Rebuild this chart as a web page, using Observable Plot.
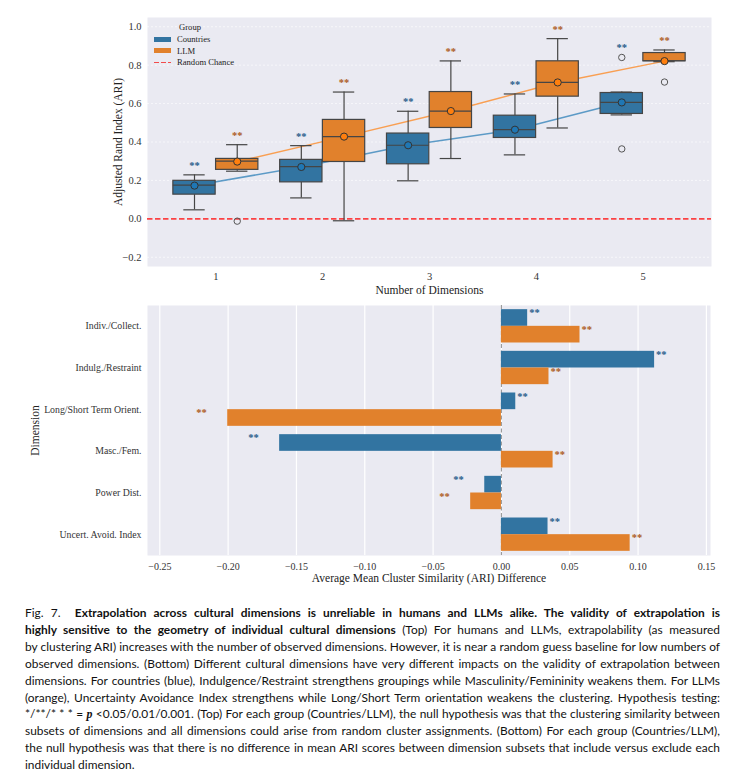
<!DOCTYPE html>
<html><head><meta charset="utf-8">
<script src="https://cdn.jsdelivr.net/npm/d3@7"></script>
<script src="https://cdn.jsdelivr.net/npm/@observablehq/plot@0.6"></script>
<style>
body{margin:0;background:#fff;}
#wrap{position:relative;width:741px;height:780px;overflow:hidden;}
#top,#bottom{position:absolute;left:0;}
#top{top:0;} #bottom{top:300px;}
.lg{position:absolute;font-family:"Liberation Serif","Times New Roman",serif;font-size:8.6px;color:#222;line-height:10px;}
.patch{position:absolute;width:17px;height:5.6px;}
.caption{position:absolute;left:25px;top:605px;width:695px;font-family:"Liberation Sans Narrow","Lato",sans-serif;font-size:12.5px;line-height:16.9px;color:#111;}
.caption div{white-space:nowrap;}
.caption.just div{text-align:justify;text-align-last:justify;}
.caption.just div.last{text-align-last:left;}
.caption b{font-weight:bold;}
</style></head>
<body>
<div id="wrap">
<div id="top"></div>
<div id="bottom"></div>
<div class="lg" style="left:170px;top:22.3px;width:40px;text-align:center;">Group</div>
<div class="patch" style="left:154px;top:36.7px;background:#3274a1;"></div>
<div class="lg" style="left:177px;top:34.3px;">Countries</div>
<div class="patch" style="left:154px;top:47.7px;background:#e1812c;"></div>
<div class="lg" style="left:177px;top:45.7px;">LLM</div>
<div class="patch" style="left:154px;top:61.5px;height:1.6px;background:repeating-linear-gradient(90deg,#f24b4b 0 4.5px,transparent 4.5px 7px);"></div>
<div class="lg" style="left:177px;top:57.3px;">Random Chance</div>
<div class="caption" id="cap">
<div><span>Fig. 7.&nbsp; <b>Extrapolation across cultural dimensions is unreliable in humans and LLMs alike. The validity of extrapolation is</b></span></div>
<div><span><b>highly sensitive to the geometry of individual cultural dimensions</b> (Top) For humans and LLMs, extrapolability (as measured</span></div>
<div><span>by clustering ARI) increases with the number of observed dimensions. However, it is near a random guess baseline for low numbers of</span></div>
<div><span>observed dimensions. (Bottom) Different cultural dimensions have very different impacts on the validity of extrapolation between</span></div>
<div><span>dimensions. For countries (blue), Indulgence/Restraint strengthens groupings while Masculinity/Femininity weakens them. For LLMs</span></div>
<div><span>(orange), Uncertainty Avoidance Index strengthens while Long/Short Term orientation weakens the clustering. Hypothesis testing:</span></div>
<div><span>*/**/* * * = <i style="font-family:'Liberation Serif',serif;font-weight:bold;">p</i> &lt;0.05/0.01/0.001. (Top) For each group (Countries/LLM), the null hypothesis was that the clustering similarity between</span></div>
<div><span>subsets of dimensions and all dimensions could arise from random cluster assignments. (Bottom) For each group (Countries/LLM),</span></div>
<div><span>the null hypothesis was that there is no difference in mean ARI scores between dimension subsets that include versus exclude each</span></div>
<div class="last"><span>individual dimension.</span></div>
</div>
</div>
<script>
// ---------- Top panel data (box statistics) ----------
const dims = [1, 2, 3, 4, 5];
const groups = ["Countries", "LLM"];
const countriesLow    = [0.047, 0.109, 0.198, 0.333, 0.541];
const countriesQ1     = [0.126, 0.190, 0.284, 0.421, 0.546];
const countriesMedian = [0.176, 0.272, 0.383, 0.464, 0.606];
const countriesQ3     = [0.198, 0.307, 0.444, 0.537, 0.655];
const countriesHigh   = [0.229, 0.381, 0.560, 0.650, 0.660];
const countriesMean   = [0.173, 0.270, 0.383, 0.464, 0.606];
const countriesOutliers = [[], [], [], [], [0.840, 0.364]];
const llmLow    = [0.248, -0.010, 0.314, 0.473, 0.818];
const llmQ1     = [0.255, 0.296, 0.473, 0.636, 0.820];
const llmMedian = [0.300, 0.428, 0.561, 0.710, 0.823];
const llmQ3     = [0.312, 0.515, 0.660, 0.820, 0.863];
const llmHigh   = [0.386, 0.660, 0.822, 0.938, 0.879];
const llmMean   = [0.298, 0.428, 0.561, 0.710, 0.821];
const llmOutliers = [[-0.012], [], [], [], [0.712]];
const significance = {Countries: ["**","**","**","**","**"], LLM: ["**","**","**","**","**"]};
const yTicksTop = [-0.2, 0.0, 0.2, 0.4, 0.6, 0.8, 1.0];

// ---------- Bottom panel data ----------
const dimensions = ["Indiv./Collect.", "Indulg./Restraint", "Long/Short Term Orient.", "Masc./Fem.", "Power Dist.", "Uncert. Avoid. Index"];
const countriesDiff = [0.0192, 0.1121, 0.0105, -0.1623, -0.0122, 0.0341];
const llmDiff       = [0.0575, 0.0348, -0.2003, 0.0378, -0.0225, 0.0942];
const countriesSig = ["**","**","**","**","**","**"];
const llmSig       = ["**","**","**","**","**","**"];
const xTicksBottom = [-0.25, -0.20, -0.15, -0.10, -0.05, 0.00, 0.05, 0.10, 0.15];

// ---------- Styles ----------
const boxColor  = {Countries: "#3274a1", LLM: "#e1812c"};
const meanColor = {Countries: "#1f77b4", LLM: "#ff7f0e"};
const starColor = {Countries: "#285d8b", LLM: "#ad5c22"};
const offset = {Countries: -0.2, LLM: 0.2};
const serif = "'Liberation Serif','Times New Roman',serif";
const edge = "#454545";

const stats = {
  Countries: {low: countriesLow, q1: countriesQ1, med: countriesMedian, q3: countriesQ3, high: countriesHigh, mean: countriesMean, out: countriesOutliers},
  LLM: {low: llmLow, q1: llmQ1, med: llmMedian, q3: llmQ3, high: llmHigh, mean: llmMean, out: llmOutliers}
};
const boxes = groups.flatMap(g => dims.map((d, i) => {
  const s = stats[g];
  return {group: g, dim: d, x: d + offset[g], low: s.low[i], q1: s.q1[i], med: s.med[i], q3: s.q3[i], high: s.high[i], mean: s.mean[i], out: s.out[i], sig: significance[g][i]};
}));
const outlierRows = boxes.flatMap(b => b.out.map(v => ({group: b.group, x: b.x, value: v})));
const starRows = boxes.map(b => ({group: b.group, x: b.x, y: Math.max(b.high, ...b.out) + 0.06, sig: b.sig}));

const topMarks = [
  Plot.frame({fill: "#eaeaf2", stroke: "none"}),
  Plot.ruleY(yTicksTop, {stroke: "white", strokeOpacity: 0.8, strokeWidth: 0.8, strokeDasharray: "2,2"}),
  Plot.ruleY([0], {stroke: "red", strokeOpacity: 0.72, strokeWidth: 1.6, strokeDasharray: "5.5,2.5"})
];
for (const g of groups) {
  const rows = boxes.filter(b => b.group === g);
  topMarks.push(Plot.line(rows, {x: "x", y: "mean", stroke: meanColor[g], strokeOpacity: 0.7, strokeWidth: 1.5}));
}
for (const g of groups) {
  const rows = boxes.filter(b => b.group === g);
  topMarks.push(
    Plot.ruleX(rows, {x: "x", y1: "low", y2: "q1", stroke: edge, strokeWidth: 1.2}),
    Plot.ruleX(rows, {x: "x", y1: "q3", y2: "high", stroke: edge, strokeWidth: 1.2}),
    Plot.ruleY(rows, {y: "low", x1: d => d.x - 0.1, x2: d => d.x + 0.1, stroke: edge, strokeWidth: 1.2}),
    Plot.ruleY(rows, {y: "high", x1: d => d.x - 0.1, x2: d => d.x + 0.1, stroke: edge, strokeWidth: 1.2}),
    Plot.rect(rows, {x1: d => d.x - 0.198, x2: d => d.x + 0.198, y1: "q1", y2: "q3", fill: boxColor[g], stroke: edge, strokeWidth: 1.2}),
    Plot.ruleY(rows, {y: "med", x1: d => d.x - 0.198, x2: d => d.x + 0.198, stroke: edge, strokeWidth: 1.2}),
    Plot.dot(outlierRows.filter(o => o.group === g), {x: "x", y: "value", r: 3.2, fill: "none", stroke: "#555", strokeWidth: 1}),
    Plot.dot(rows, {x: "x", y: "mean", r: 3.6, fill: meanColor[g], stroke: "#333", strokeWidth: 1}),
    Plot.text(starRows.filter(s => s.group === g), {x: "x", y: "y", text: "sig", fill: starColor[g], fontWeight: "bold", fontSize: 10.5, lineAnchor: "bottom", dy: 5.5})
  );
}
topMarks.push(
  Plot.axisX({ticks: dims, tickSize: 0, tickPadding: 6, tickFormat: d3.format("d"), label: null, fontSize: 10.5, fill: "#333"}),
  Plot.axisY({ticks: yTicksTop, tickSize: 0, tickPadding: 6, tickFormat: d3.format(".1f"), label: null, fontSize: 10.5, fill: "#333"}),
  Plot.text(["Number of Dimensions"], {frameAnchor: "bottom", textAnchor: "middle", lineAnchor: "bottom", dy: 27, fontSize: 11.5, fill: "#222"}),
  Plot.text(["Adjusted Rand Index (ARI)"], {frameAnchor: "left", textAnchor: "middle", rotate: -90, lineAnchor: "bottom", dx: -26, fontSize: 11.5, fill: "#222"})
);

const topPlot = Plot.plot({
  width: 741, height: 300,
  marginLeft: 147, marginRight: 30, marginTop: 17, marginBottom: 34,
  style: {fontFamily: serif, background: "transparent"},
  x: {domain: [0.36, 5.64]},
  y: {domain: [-0.248, 1.048]},
  marks: topMarks
});
document.getElementById("top").append(topPlot);

// ---------- Bottom panel ----------
const bars = dimensions.flatMap((name, i) => [
  {group: "Countries", i, name, value: countriesDiff[i], y1: i - 0.4, y2: i, sig: countriesSig[i]},
  {group: "LLM", i, name, value: llmDiff[i], y1: i, y2: i + 0.4, sig: llmSig[i]}
]);
const botMarks = [
  Plot.frame({fill: "#eaeaf2", stroke: "none"}),
  Plot.ruleX(xTicksBottom, {stroke: "white", strokeWidth: 1.2}),
  Plot.ruleX([0], {stroke: "#9a9a9a", strokeWidth: 1.1, strokeDasharray: "4,2.5"})
];
for (const g of groups) {
  const rows = bars.filter(b => b.group === g);
  botMarks.push(
    Plot.rect(rows, {x1: 0, x2: "value", y1: "y1", y2: "y2", fill: boxColor[g]}),
    Plot.text(rows.filter(r => r.value >= 0), {x: "value", y: "y1", text: "sig", fill: starColor[g], fontWeight: "bold", fontSize: 10.5, textAnchor: "start", lineAnchor: "bottom", dx: 1.5, dy: 6.8}),
    Plot.text(rows.filter(r => r.value < 0), {x: "value", y: "y1", text: "sig", fill: starColor[g], fontWeight: "bold", fontSize: 10.5, textAnchor: "end", lineAnchor: "bottom", dx: -21, dy: 6.8})
  );
}
botMarks.push(
  Plot.axisX({ticks: xTicksBottom, tickSize: 0, tickPadding: 7, tickFormat: d3.format(".2f"), label: null, fontSize: 10, fill: "#333"}),
  Plot.axisY({ticks: d3.range(dimensions.length), tickSize: 0, tickPadding: 6, tickFormat: i => dimensions[i], label: null, fontSize: 9.8, fill: "#333"}),
  Plot.text(["Average Mean Cluster Similarity (ARI) Difference"], {frameAnchor: "bottom", textAnchor: "middle", lineAnchor: "bottom", dy: 26.5, fontSize: 11.5, fill: "#222"}),
  Plot.text(["Dimension"], {frameAnchor: "left", textAnchor: "middle", rotate: -90, lineAnchor: "bottom", dx: -108.5, fontSize: 11.5, fill: "#222"})
);
const botPlot = Plot.plot({
  width: 741, height: 300,
  marginLeft: 147, marginRight: 31, marginTop: 5, marginBottom: 45,
  style: {fontFamily: serif, background: "transparent"},
  x: {domain: [-0.259, 0.153]},
  y: {domain: [-0.5, 5.5], reverse: true},
  marks: botMarks
});
document.getElementById("bottom").append(botPlot);

// ---------- Fit caption lines ----------
function fitCaption() {
  const cap = document.getElementById("cap");
  cap.classList.remove("just");
  let size = 12.5;
  cap.style.fontSize = size + "px";
  const spans = [...cap.querySelectorAll("span")];
  const maxW = Math.max(...spans.map(s => s.getBoundingClientRect().width));
  if (maxW > 694) { size = size * 694 / maxW; cap.style.fontSize = size.toFixed(2) + "px"; }
  cap.classList.add("just");
}
fitCaption();
if (document.fonts && document.fonts.ready) document.fonts.ready.then(fitCaption);
</script>
</body></html>
